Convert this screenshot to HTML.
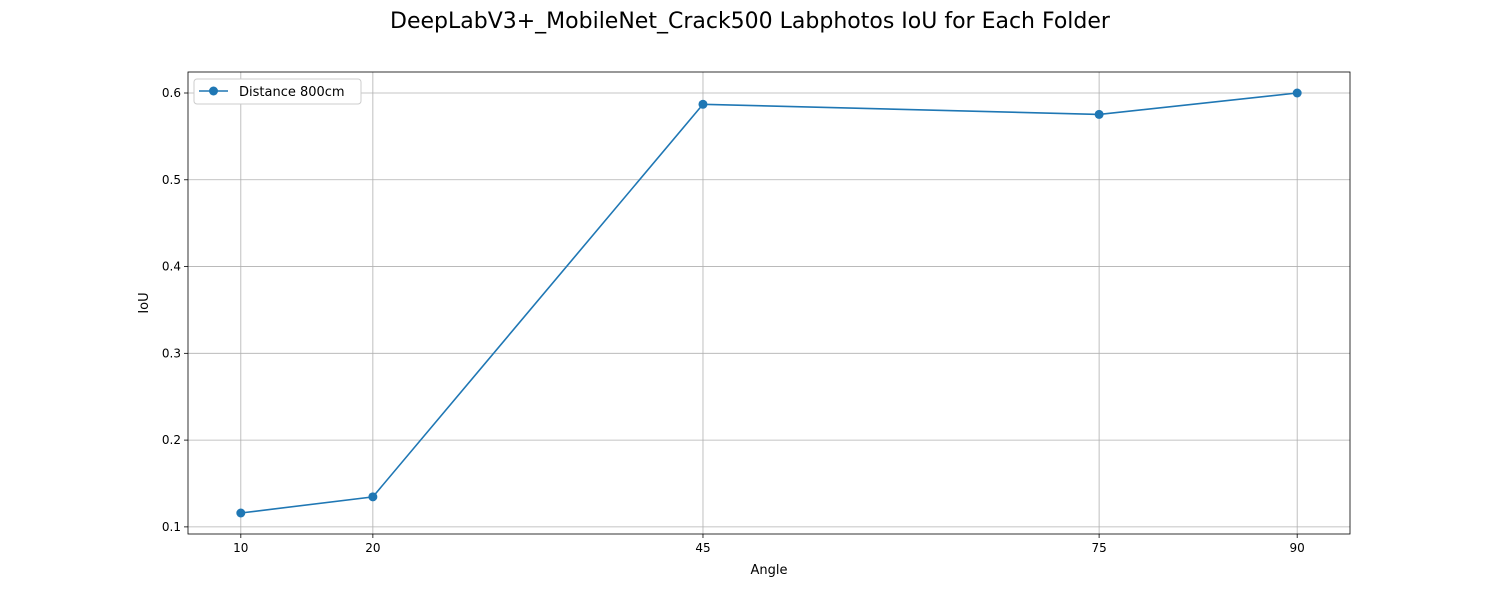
<!DOCTYPE html>
<html><head><meta charset="utf-8"><style>
body{margin:0;background:#fff;font-family:"Liberation Sans","DejaVu Sans",sans-serif}
svg text{font-family:"DejaVu Sans","Liberation Sans",sans-serif}
</style></head><body>
<svg id="chart" width="1500" height="600"></svg>
<script>
const categories=[10,20,45,75,90];
const iouValues=[0.116,0.1346,0.587,0.5753,0.600];
const yTicks=[0.1,0.2,0.3,0.4,0.5,0.6];
const seriesLabel="Distance 800cm";
const NS="http://www.w3.org/2000/svg";
const svg=document.getElementById('chart');
const L=188,R=1350,T=72,B=534;
const xmin=Math.min(...categories),xmax=Math.max(...categories),xm=(xmax-xmin)*0.05;
const ymin=Math.min(...iouValues),ymax=Math.max(...iouValues),ym=(ymax-ymin)*0.05;
const X=v=>L+(v-(xmin-xm))/((xmax+xm)-(xmin-xm))*(R-L);
const Y=v=>B-(v-(ymin-ym))/((ymax+ym)-(ymin-ym))*(B-T);
function mk(t,a,txt){const e=document.createElementNS(NS,t);for(const k in a)e.setAttribute(k,a[k]);if(txt!==undefined)e.textContent=txt;svg.appendChild(e);return e;}
let e;
e=mk('text',{x:750,y:28,'text-anchor':'middle','font-size':22},'DeepLabV3+_MobileNet_Crack500 Labphotos IoU for Each Folder');


categories.forEach(c=>{const x=X(c);
e=mk('line',{x1:x,x2:x,y1:T,y2:B,stroke:'#b0b0b0','stroke-width':0.8});


mk('line',{x1:x,x2:x,y1:B,y2:B+4,stroke:'#000','stroke-width':0.8});
e=mk('text',{x:x,y:B+18,'text-anchor':'middle','font-size':12},String(c));


});
yTicks.forEach(t=>{const y=Y(t);
e=mk('line',{x1:L,x2:R,y1:y,y2:y,stroke:'#b0b0b0','stroke-width':0.8});


mk('line',{x1:L-4,x2:L,y1:y,y2:y,stroke:'#000','stroke-width':0.8});
e=mk('text',{x:L-7,y:y+4,'text-anchor':'end','font-size':12},t.toFixed(1));


});
e=mk('rect',{x:L,y:T,width:R-L,height:B-T,fill:'none',stroke:'#000','stroke-width':0.8});


e=mk('text',{x:(L+R)/2,y:574,'text-anchor':'middle','font-size':13},'Angle');


e=mk('text',{x:148,y:(T+B)/2,'text-anchor':'middle','font-size':13,transform:`rotate(-90 148 ${(T+B)/2})`},'IoU');


e=mk('polyline',{points:categories.map((c,i)=>X(c)+','+Y(iouValues[i])).join(' '),fill:'none',stroke:'#1f77b4','stroke-width':1.6});


categories.forEach((c,i)=>{
e=mk('circle',{cx:X(c),cy:Y(iouValues[i]),r:4.5,fill:'#1f77b4'});


});
e=mk('rect',{x:194,y:79,width:167,height:25,rx:3,fill:'#fff',stroke:'#ccc','stroke-width':1});


mk('line',{x1:199,x2:228,y1:91,y2:91,stroke:'#1f77b4','stroke-width':1.6});
mk('circle',{cx:213.5,cy:91,r:4.5,fill:'#1f77b4'});
e=mk('text',{x:239,y:96,'font-size':13},seriesLabel);


</script>
</body></html>
